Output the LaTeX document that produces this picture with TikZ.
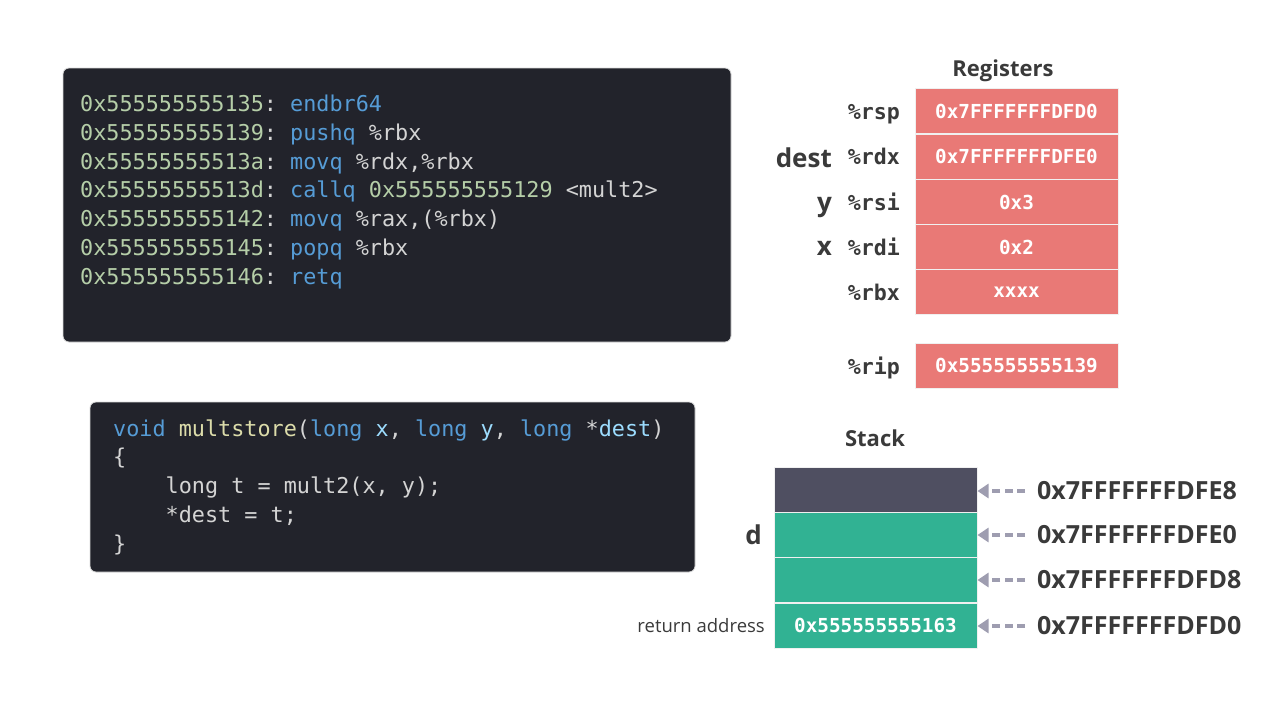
\documentclass[tikz,border=0pt]{standalone}
\usepackage{fontspec}
\setmainfont{Open Sans}
\setmonofont{DejaVu Sans Mono}
\usetikzlibrary{arrows.meta}

\definecolor{codebg}{HTML}{22232B}
\definecolor{addrgreen}{HTML}{B5CEA8}
\definecolor{kwblue}{HTML}{569CD6}
\definecolor{plaintxt}{HTML}{D4D4D4}
\definecolor{fnyellow}{HTML}{DCDCAA}
\definecolor{paramblue}{HTML}{9CDCFE}
\definecolor{regred}{HTML}{E97976}
\definecolor{stackdark}{HTML}{4F4F61}
\definecolor{stackteal}{HTML}{31B293}
\definecolor{arrowgray}{HTML}{9E9DB0}
\definecolor{labeldark}{HTML}{3A3A3A}

\newcommand{\codefont}{\ttfamily\fontsize{21.8}{26}\selectfont}
\newcommand{\ad}[1]{\textcolor{addrgreen}{#1}}
\newcommand{\kw}[1]{\textcolor{kwblue}{#1}}
\newcommand{\fn}[1]{\textcolor{fnyellow}{#1}}
\newcommand{\pa}[1]{\textcolor{paramblue}{#1}}

\tikzset{
  codebox/.style={fill=codebg, draw=black!15, line width=0.8pt, rounded corners=6pt},
  codeline/.style={anchor=base west, inner sep=0pt, font=\codefont, text=plaintxt},
  regcell/.style={fill=regred, draw=white!88!gray, line width=1pt, minimum width=203pt, minimum height=45pt,
    inner sep=0pt, text=white, font=\ttfamily\bfseries\fontsize{19.3}{22}\selectfont},
  stackcell/.style={regcell, fill=stackteal},
  reglabel/.style={anchor=base east, inner sep=0pt, text=labeldark, font=\ttfamily\bfseries\fontsize{21.6}{24}\selectfont},
  varlabel/.style={anchor=base east, inner sep=0pt, text=labeldark, font=\bfseries\fontsize{26}{28}\selectfont},
  title/.style={anchor=base, text=labeldark, font=\bfseries\fontsize{22}{24}\selectfont},
  addrlabel/.style={anchor=west, inner xsep=12pt, inner ysep=0pt, text=labeldark, font=\bfseries\fontsize{25}{28}\selectfont},
  ptr/.style={arrowgray, line width=3.8pt, dash pattern=on 8pt off 4.5pt, -{Triangle[length=11pt,width=14pt]}}
}

\begin{document}
\begin{tikzpicture}[x=1pt,y=-1pt]
  \useasboundingbox (0,0) rectangle (1280,720);

  % assembly listing
  \node[codebox, minimum width=668pt, minimum height=274pt] (asm) at (397,205) {};
  \node[codeline] (l1) at (80,111) {\ad{0x555555555135}: \kw{endbr64}};
  \node[codeline] (l2) at (80,140) {\ad{0x555555555139}: \kw{pushq} \%rbx};
  \node[codeline] (l3) at (80,169) {\ad{0x55555555513a}: \kw{movq} \%rdx,\%rbx};
  \node[codeline] (l4) at (80,197) {\ad{0x55555555513d}: \kw{callq} \ad{0x555555555129} <mult2>};
  \node[codeline] (l5) at (80,226) {\ad{0x555555555142}: \kw{movq} \%rax,(\%rbx)};
  \node[codeline] (l6) at (80,255) {\ad{0x555555555145}: \kw{popq} \%rbx};
  \node[codeline] (l7) at (80,284) {\ad{0x555555555146}: \kw{retq}};

  % C source
  \node[codebox, minimum width=605pt, minimum height=170pt] (src) at (392.5,487) {};
  \node[codeline] (c1) at (113,436) {\kw{void} \fn{multstore}(\kw{long} \pa{x}, \kw{long} \pa{y}, \kw{long} *\pa{dest})};
  \node[codeline] (c2) at (113,464) {\{};
  \node[codeline] (c3) at (165.5,493) {long t = mult2(x, y);};
  \node[codeline] (c4) at (165.5,522) {*dest = t;};
  \node[codeline] (c5) at (113,551) {\}};

  % registers
  \node[title] (regtitle) at (1003,76) {Registers};
  \node[regcell] (rsp) at (1016.5,111) {0x7FFFFFFFDFD0};
  \node[regcell] (rdx) at (1016.5,156.5) {0x7FFFFFFFDFE0};
  \node[regcell] (rsi) at (1016.5,202) {0x3};
  \node[regcell] (rdi) at (1016.5,247) {0x2};
  \node[regcell] (rbx) at (1016.5,292) {xxxx};
  \node[regcell] (rip) at (1016.5,366) {0x555555555139};
  \node[reglabel] (rspname) at (900,119) {\%rsp};
  \node[reglabel] (rdxname) at (900,164) {\%rdx};
  \node[reglabel] (rsiname) at (900,210) {\%rsi};
  \node[reglabel] (rdiname) at (900,255) {\%rdi};
  \node[reglabel] (rbxname) at (900,300) {\%rbx};
  \node[reglabel] (ripname) at (900,374) {\%rip};
  \node[varlabel] (destvar) at (832,167) {dest};
  \node[varlabel] (yvar) at (832,211) {y};
  \node[varlabel] (xvar) at (832,255) {x};

  % stack
  \node[title] (stacktitle) at (875,446) {Stack};
  \node[stackcell, fill=stackdark] (s1) at (875.5,489.5) {};
  \node[stackcell] (s2) at (875.5,535) {};
  \node[stackcell] (s3) at (875.5,580) {};
  \node[stackcell] (s4) at (875.5,625.5) {0x555555555163};
  \node[varlabel] (dvar) at (762,544) {d};
  \node[anchor=east, inner sep=0pt, text=labeldark, font=\fontsize{18.5}{20}\selectfont] (retaddr) at (765,625.5) {return address};

  \node[addrlabel] (a1) at (1025,491) {0x7FFFFFFFDFE8};
  \node[addrlabel] (a2) at (1025,535) {0x7FFFFFFFDFE0};
  \node[addrlabel] (a3) at (1025,580) {0x7FFFFFFFDFD8};
  \node[addrlabel] (a4) at (1025,626) {0x7FFFFFFFDFD0};
  \draw[ptr] (a1.west) -- (s1.east |- a1.west);
  \draw[ptr] (a2.west) -- (s2.east |- a2.west);
  \draw[ptr] (a3.west) -- (s3.east |- a3.west);
  \draw[ptr] (a4.west) -- (s4.east |- a4.west);
\end{tikzpicture}
\end{document}
